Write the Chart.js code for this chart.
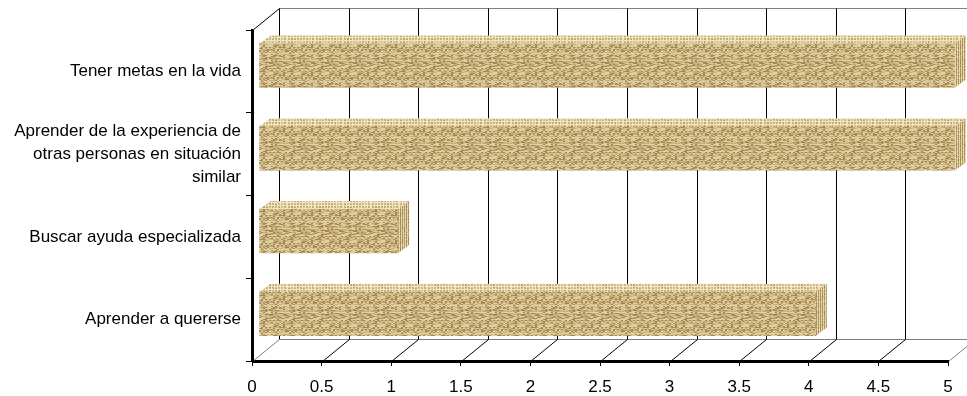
<!DOCTYPE html>
<html>
<head>
<meta charset="utf-8">
<script src="https://cdn.jsdelivr.net/npm/chart.js@4.4.1/dist/chart.umd.min.js"></script>
<style>
  body { margin: 0; background: #fff; }
  #chart { display: block; }
</style>
</head>
<body>
<canvas id="chart" width="967" height="396"></canvas>
<script>
// Chart data
const categories = [
    'Tener metas en la vida',
    ['Aprender de la experiencia de', 'otras personas en situación', 'similar'],
    'Buscar ayuda especializada',
    'Aprender a quererse'
];
const values = [5, 5, 1, 4];
const xMin = 0;
const xMax = 5;
const xStep = 0.5;

// 3D look: depth of the walls, offset of the bars inside them, depth of the bars
const WALL = { dx: 27, dy: -22 };
const BAR_SHIFT = { dx: 7, dy: -6 };
const BAR_DEPTH = { dx: 11, dy: -8 };

// deterministic hash for the woven texture
function hash(x, y, seed) {
    let n = Math.imul(x, 374761393) + Math.imul(y, 668265263) + Math.imul(seed, 1442695041);
    n = Math.imul(n ^ (n >>> 13), 1274126177);
    return ((n ^ (n >>> 16)) >>> 0) / 4294967296;
}

function makePattern(kind) {
    const size = 28;
    const c = document.createElement('canvas');
    c.width = size;
    c.height = size;
    const g = c.getContext('2d');
    const img = g.createImageData(size, size);
    for (let y = 0; y < size; y++) {
        for (let x = 0; x < size; x++) {
            const h = hash(x >> 1, y, kind === 'front' ? 1 : kind === 'top' ? 2 : 3);
            let col;
            if (kind === 'front') {
                if (h < 0.3) col = [166, 136, 84];
                else if (h < 0.72) col = [200, 175, 122];
                else col = [224, 207, 158];
                if (y % 7 === 3 && h > 0.25) col = [222, 208, 166];
                else if (x % 14 === 9 && h > 0.4) col = [218, 200, 152];
            } else if (kind === 'top') {
                if (x % 3 === 0 || y % 3 === 0) col = [238, 228, 192];
                else col = h < 0.4 ? [188, 162, 108] : [212, 192, 142];
            } else {
                if (x % 2 === 0) col = y % 3 === 0 ? [236, 224, 186] : [226, 210, 166];
                else col = h < 0.5 ? [160, 130, 80] : [186, 160, 106];
            }
            const i = (y * size + x) * 4;
            img.data[i] = col[0];
            img.data[i + 1] = col[1];
            img.data[i + 2] = col[2];
            img.data[i + 3] = 255;
        }
    }
    g.putImageData(img, 0, 0);
    return g.createPattern(c, 'repeat');
}

const ctxMain = document.getElementById('chart').getContext('2d');
const frontPattern = makePattern('front');
const topPattern = makePattern('top');
const sidePattern = makePattern('side');

function line(ctx, x1, y1, x2, y2, color) {
    ctx.strokeStyle = color;
    ctx.beginPath();
    ctx.moveTo(x1, y1);
    ctx.lineTo(x2, y2);
    ctx.stroke();
}

// Back wall, floor, front axes and the bar extrusion
const box3d = {
    id: 'box3d',
    beforeDatasetsDraw(chart) {
        const ctx = chart.ctx;
        const area = chart.chartArea;
        const xs = chart.scales.x;
        ctx.save();
        ctx.lineWidth = 1;
        const L = Math.round(area.left) + 0.5;
        const B = Math.round(area.bottom) + 0.5;
        const T = Math.round(area.top) + 0.5;
        // back wall top and floor back edge
        line(ctx, L + WALL.dx, T + WALL.dy, chart.width, T + WALL.dy, '#808080');
        line(ctx, L + WALL.dx, B + WALL.dy, chart.width, B + WALL.dy, '#808080');
        // grid lines on back wall and floor
        for (let v = xMin; v <= xMax + 1e-9; v += xStep) {
            const x = Math.round(xs.getPixelForValue(v)) + 0.5;
            line(ctx, x + WALL.dx, T + WALL.dy, x + WALL.dx, B + WALL.dy, '#000');
            const edge = v === xMin || v >= xMax - 1e-9;
            line(ctx, x, B, x + WALL.dx, B + WALL.dy, edge ? '#808080' : '#000');
        }
        // left wall top edge
        line(ctx, L, T, L + WALL.dx, T + WALL.dy, '#000');
        ctx.restore();
    },
    beforeDatasetDraw(chart) {
        chart.ctx.save();
        chart.ctx.translate(BAR_SHIFT.dx, BAR_SHIFT.dy);
    },
    afterDatasetDraw(chart, args) {
        const ctx = chart.ctx;
        args.meta.data.forEach(el => {
            const p = el.getProps(['x', 'y', 'base', 'height'], true);
            const top = p.y - p.height / 2;
            const bot = p.y + p.height / 2;
            // top face
            ctx.fillStyle = topPattern;
            ctx.beginPath();
            ctx.moveTo(p.base, top);
            ctx.lineTo(p.x, top);
            ctx.lineTo(p.x + BAR_DEPTH.dx, top + BAR_DEPTH.dy);
            ctx.lineTo(p.base + BAR_DEPTH.dx, top + BAR_DEPTH.dy);
            ctx.closePath();
            ctx.fill();
            // side face
            ctx.fillStyle = sidePattern;
            ctx.beginPath();
            ctx.moveTo(p.x, top);
            ctx.lineTo(p.x + BAR_DEPTH.dx, top + BAR_DEPTH.dy);
            ctx.lineTo(p.x + BAR_DEPTH.dx, bot + BAR_DEPTH.dy);
            ctx.lineTo(p.x, bot);
            ctx.closePath();
            ctx.fill();
        });
        ctx.restore();
    },
    afterDraw(chart) {
        // front axis lines, drawn last so nothing covers them
        const ctx = chart.ctx;
        const a = chart.chartArea;
        ctx.save();
        ctx.fillStyle = '#000';
        ctx.fillRect(Math.round(a.left), Math.round(a.top), 2, Math.round(a.bottom - a.top) + 2);
        ctx.fillRect(Math.round(a.left), Math.round(a.bottom), Math.round(a.right - a.left) + 1, 2);
        ctx.restore();
    }
};

const labelFont = { family: '"Liberation Sans", Arial, sans-serif', size: 17, lineHeight: 1.35 };

new Chart(ctxMain, {
    type: 'bar',
    data: {
        labels: categories,
        datasets: [{
            data: values,
            backgroundColor: frontPattern,
            borderWidth: 0,
            barThickness: 44,
            clip: false
        }]
    },
    options: {
        indexAxis: 'y',
        responsive: false,
        animation: false,
        layout: { padding: { top: 30, right: 19, left: 0, bottom: 0 } },
        scales: {
            x: {
                type: 'linear',
                min: xMin,
                max: xMax,
                grid: { drawOnChartArea: false, drawTicks: true, tickLength: 5, color: '#000' },
                border: { display: true, color: '#000', width: 2 },
                ticks: {
                    stepSize: xStep,
                    autoSkip: false,
                    maxRotation: 0,
                    padding: 10,
                    color: '#000',
                    font: labelFont,
                    callback: value => String(value)
                },
                afterFit(scale) { scale.height = 35; }
            },
            y: {
                grid: { drawOnChartArea: false, drawTicks: true, tickLength: 6, color: '#000' },
                border: { display: true, color: '#000', width: 2 },
                ticks: {
                    padding: 5,
                    color: '#000',
                    font: labelFont
                },
                afterFit(scale) { scale.width = 252; }
            }
        },
        plugins: {
            legend: { display: false },
            tooltip: { enabled: false }
        }
    },
    plugins: [box3d]
});
</script>
</body>
</html>
